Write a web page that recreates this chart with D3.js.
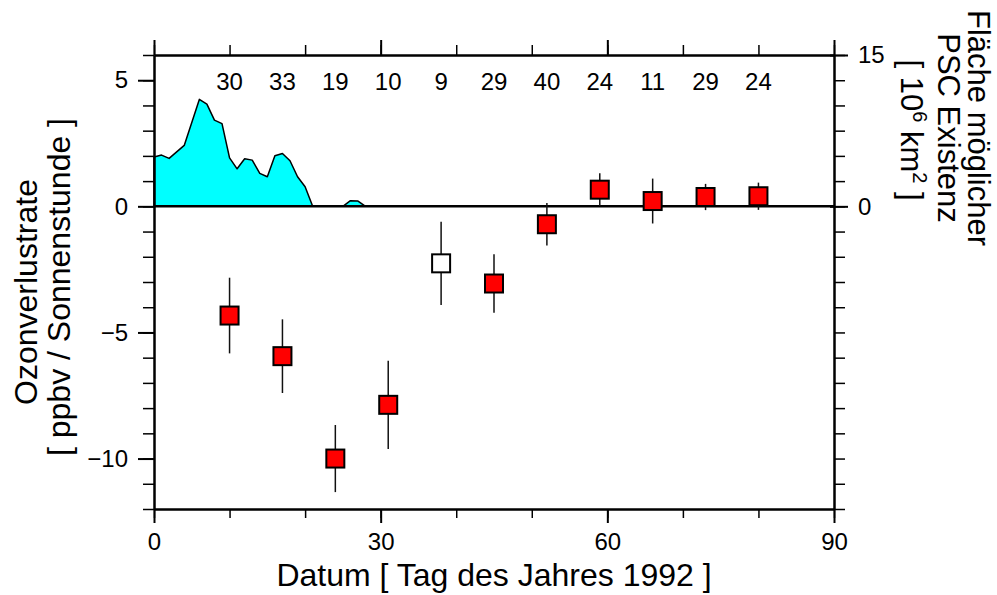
<!DOCTYPE html>
<html>
<head>
<meta charset="utf-8">
<script src="https://cdn.jsdelivr.net/npm/d3@7"></script>
<style>
  body { margin: 0; background: #fff; }
  svg { font-family: 'Liberation Sans', Arial, sans-serif; }
</style>
</head>
<body>
<div id="chart"></div>
<script>
// ozone loss rate per day bin (day of year 1992)
var days = [10, 17, 24, 31, 38, 45, 52, 59, 66, 73, 80]
var rates = [-4.33, -5.94, -10.0, -7.87, -2.26, -3.06, -0.71, 0.66, 0.21, 0.37, 0.40]
var errors = [1.5, 1.46, 1.33, 1.75, 1.65, 1.16, 0.84, 0.65, 0.89, 0.52, 0.54]
var counts = [30, 33, 19, 10, 9, 29, 40, 24, 11, 29, 24]
var filled = [true, true, true, true, false, true, true, true, true, true, true]

// PSC area (10^6 km^2)
var pscDays = [0, 1, 2, 4, 6, 7, 8, 9, 10, 11, 12, 13, 14, 15, 16, 17, 18, 19, 20, 21, 25, 26, 27, 28]
var pscArea = [4.9, 5.08, 4.75, 6.04, 10.6, 10.13, 8.54, 8.2, 4.81, 3.72, 4.71, 4.58, 3.27, 2.93, 5.01, 5.24, 4.52, 2.93, 1.94, 0, 0, 0.56, 0.52, 0]

var xMinor = d3.range(0, 91, 10)
var xMajor = [0, 30, 60, 90]
var yMinor = d3.range(-12, 7, 1)
var yMajor = [-10, -5, 0, 5]
var y2Minor = d3.range(-30, 15.1, 2.5)
var y2Major = [0, 15]

var W = 997, H = 595
var pLeft = 154, pRight = 834, pTop = 55, pBottom = 509

var x = d3.scaleLinear().domain([0, 90]).range([pLeft, pRight])
var y = d3.scaleLinear().domain([-12, 6]).range([pBottom, pTop])
var y2 = d3.scaleLinear().domain([-30, 15]).range([pBottom, pTop])

var svg = d3.select('#chart').append('svg')
  .attr('width', W)
  .attr('height', H)

// PSC area
var area = d3.area()
  .x(function(d) { return x(d[0]) })
  .y0(y2(0))
  .y1(function(d) { return y2(d[1]) })
var pscData = pscDays.map(function(d, i) { return [d, pscArea[i]] })
svg.append('path')
  .datum(pscData)
  .attr('d', area)
  .attr('fill', '#00ffff')
  .attr('stroke', '#000')
  .attr('stroke-width', 1.5)
  .attr('stroke-linejoin', 'round')

// zero line
svg.append('line')
  .attr('x1', x(0)).attr('x2', x(90))
  .attr('y1', y(0)).attr('y2', y(0))
  .attr('stroke', '#000')
  .attr('stroke-width', 2.5)

function styleAxis(g, w) {
  g.select('.domain').attr('stroke-width', 2)
  g.selectAll('.tick line').attr('stroke-width', w)
  g.selectAll('text').attr('font-size', 24).attr('fill', '#000')
  g.attr('font-family', null)
}

// bottom
svg.append('g').attr('transform', 'translate(0,' + pBottom + ')')
  .call(d3.axisBottom(x).tickValues(xMinor).tickSize(9).tickSizeOuter(0).tickFormat(''))
  .call(styleAxis, 1.5)
svg.append('g').attr('transform', 'translate(0,' + pBottom + ')')
  .call(d3.axisBottom(x).tickValues(xMajor).tickSize(14).tickSizeOuter(0).tickPadding(10).tickFormat(d3.format('d')))
  .call(styleAxis, 2)

// top
svg.append('g').attr('transform', 'translate(0,' + pTop + ')')
  .call(d3.axisTop(x).tickValues(xMinor).tickSize(10).tickSizeOuter(0).tickFormat(''))
  .call(styleAxis, 1.5)
svg.append('g').attr('transform', 'translate(0,' + pTop + ')')
  .call(d3.axisTop(x).tickValues(xMajor).tickSize(15).tickSizeOuter(0).tickFormat(''))
  .call(styleAxis, 2)

// left
svg.append('g').attr('transform', 'translate(' + pLeft + ',0)')
  .call(d3.axisLeft(y).tickValues(yMinor).tickSize(11).tickSizeOuter(0).tickFormat(''))
  .call(styleAxis, 1.5)
svg.append('g').attr('transform', 'translate(' + pLeft + ',0)')
  .call(d3.axisLeft(y).tickValues(yMajor).tickSize(16).tickSizeOuter(0).tickPadding(10).tickFormat(d3.format('d')))
  .call(styleAxis, 2)

// right
svg.append('g').attr('transform', 'translate(' + pRight + ',0)')
  .call(d3.axisRight(y2).tickValues(y2Minor).tickSize(11).tickSizeOuter(0).tickFormat(''))
  .call(styleAxis, 1.5)
var rMaj = svg.append('g').attr('transform', 'translate(' + pRight + ',0)')
  .call(d3.axisRight(y2).tickValues(y2Major).tickSize(14).tickSizeOuter(0).tickPadding(10).tickFormat(d3.format('d')))
  .call(styleAxis, 2)
rMaj.selectAll('.tick line').attr('x1', -4)

// error bars
var pts = days.map(function(d, i) {
  return { day: d, rate: rates[i], err: errors[i], n: counts[i], filled: filled[i] }
})
svg.append('g').selectAll('line')
  .data(pts)
  .enter()
  .append('line')
  .attr('x1', function(d) { return x(d.day) })
  .attr('x2', function(d) { return x(d.day) })
  .attr('y1', function(d) { return y(d.rate + d.err) })
  .attr('y2', function(d) { return y(d.rate - d.err) })
  .attr('stroke', '#111')
  .attr('stroke-width', 1.5)

// squares
var s = 18
svg.append('g').selectAll('rect')
  .data(pts)
  .enter()
  .append('rect')
  .attr('x', function(d) { return x(d.day) - s / 2 })
  .attr('y', function(d) { return y(d.rate) - s / 2 })
  .attr('width', s)
  .attr('height', s)
  .attr('fill', function(d) { return d.filled ? '#ff0000' : '#fff' })
  .attr('stroke', '#000')
  .attr('stroke-width', 2)

// number of measurements
svg.append('g').selectAll('text')
  .data(pts)
  .enter()
  .append('text')
  .attr('x', function(d) { return x(d.day) })
  .attr('y', 90)
  .attr('text-anchor', 'middle')
  .attr('font-size', 24)
  .text(function(d) { return d.n })

// axis titles
svg.append('text')
  .attr('x', (pLeft + pRight) / 2)
  .attr('y', 586)
  .attr('text-anchor', 'middle')
  .attr('font-size', 32)
  .text('Datum [ Tag des Jahres 1992 ]')

svg.append('g').attr('transform', 'translate(37,292) rotate(-90)')
  .append('text').attr('text-anchor', 'middle').attr('font-size', 32)
  .text('Ozonverlustrate')
svg.append('g').attr('transform', 'translate(70,287) rotate(-90)')
  .append('text').attr('text-anchor', 'middle').attr('font-size', 32)
  .text('[ ppbv / Sonnenstunde ]')

var rtLines = ['Fläche möglicher', 'PSC Existenz']
var rtX = [968, 938]
rtLines.forEach(function(t, i) {
  svg.append('g').attr('transform', 'translate(' + rtX[i] + ',128) rotate(90)')
    .append('text').attr('text-anchor', 'middle').attr('font-size', 31)
    .text(t)
})
var unit = svg.append('g').attr('transform', 'translate(901,130) rotate(90)')
  .append('text').attr('text-anchor', 'middle').attr('font-size', 31)
unit.append('tspan').text('[ 10')
unit.append('tspan').attr('font-size', 20).attr('dy', -12).text('6')
unit.append('tspan').attr('dy', 12).text(' km')
unit.append('tspan').attr('font-size', 20).attr('dy', -12).text('2')
unit.append('tspan').attr('dy', 12).text(' ]')
</script>
</body>
</html>
